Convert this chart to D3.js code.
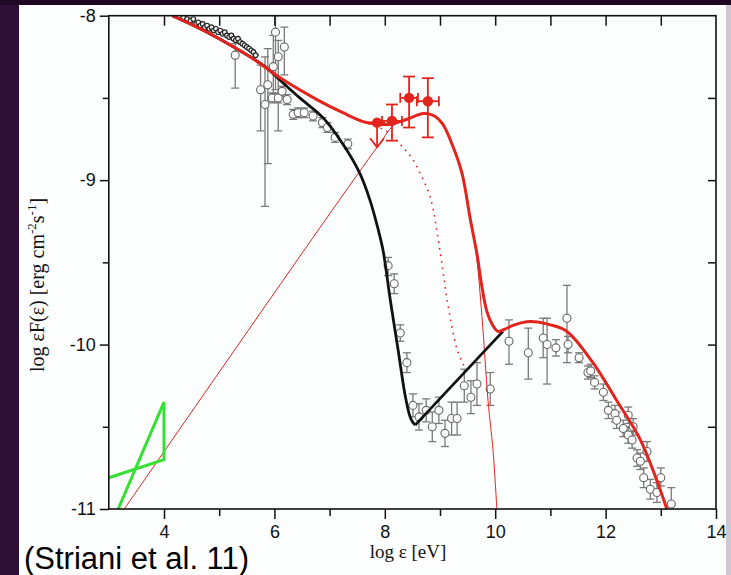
<!DOCTYPE html>
<html><head><meta charset="utf-8">
<script src="https://cdn.jsdelivr.net/npm/d3@7"></script>
<style>html,body{margin:0;padding:0;background:#2e0f36;overflow:hidden}</style>
</head><body>
<script>
// ---------- DATA ----------
const xMajorTicks = [4, 6, 8, 10, 12, 14];
const xMinorTicks = [5, 7, 9, 11, 13];
const yMajorTicks = [-8, -9, -10, -11];
const yMinorTicks = [-8.5, -9.5, -10.5];

// thick red total model
const redTotalX = [4.15, 4.6, 5.0, 5.56, 6.16, 6.77, 7.24, 7.67, 8.1, 8.4, 8.7, 8.9, 9.05, 9.24, 9.4, 9.55, 9.67, 9.76, 9.85, 9.95, 10.05, 10.15, 10.35, 10.63, 11.0, 11.3, 11.77, 12.2, 12.63, 13.11];
const redTotalY = [-8.0, -8.07, -8.14, -8.25, -8.39, -8.51, -8.59, -8.65, -8.66, -8.63, -8.595, -8.61, -8.66, -8.80, -8.96, -9.24, -9.45, -9.65, -9.80, -9.88, -9.92, -9.91, -9.88, -9.86, -9.88, -9.92, -10.11, -10.34, -10.58, -11.0];

// black model (descending part, then straight rise)
const blackX = [4.15, 4.6, 5.0, 5.56, 5.83, 6.16, 6.46, 6.88, 7.24, 7.55, 7.73, 7.88, 7.97, 8.10, 8.24, 8.38, 8.47, 8.55];
const blackY = [-8.0, -8.07, -8.14, -8.25, -8.31, -8.41, -8.50, -8.62, -8.78, -8.96, -9.12, -9.30, -9.43, -9.73, -10.03, -10.33, -10.45, -10.49];
const blackRiseX = [8.55, 10.14];
const blackRiseY = [-10.49, -9.92];

// thin red component
const thinRedX = [3.28, 7.86, 8.2, 8.5, 8.7, 8.9, 9.05, 9.24, 9.4, 9.55, 9.65, 9.76, 9.87, 9.96, 10.03];
const thinRedY = [-11.0, -8.80, -8.655, -8.62, -8.595, -8.61, -8.66, -8.80, -8.96, -9.24, -9.43, -9.83, -10.34, -10.64, -11.0];

// dotted red component
const dotRedX = [7.7, 7.9, 8.1, 8.3, 8.5, 8.64, 8.82, 9.0, 9.13, 9.31, 9.45];
const dotRedY = [-8.655, -8.68, -8.72, -8.79, -8.87, -8.96, -9.1, -9.43, -9.73, -10.03, -10.14];

// green bow-tie
const greenX = [3.0, 4.0, 4.0, 3.17];
const greenY = [-10.81, -10.70, -10.35, -11.0];

// red measured points
const redPtX = [8.13, 8.44, 8.78];
const redPtY = [-8.64, -8.50, -8.52];
const redPtLo = [-8.76, -8.68, -8.74];
const redPtHi = [-8.54, -8.37, -8.38];
const redPtXerr = [0.18, 0.16, 0.2];
// red upper limit
const ulX = [7.86];
const ulY = [-8.65];
const ulTo = [-8.80];
const ulXerr = [0.15];

// dense low-energy data (dark)
const denseX = [4.35, 4.42, 4.48, 4.53, 4.58, 4.62, 4.66, 4.7, 4.74, 4.78, 4.82, 4.86, 4.9, 4.94, 4.98, 5.02, 5.06, 5.1, 5.14, 5.18, 5.22, 5.26, 5.3, 5.34, 5.38, 5.42, 5.46, 5.5, 5.54, 5.58, 5.62, 5.66];
const denseY = [-8.01, -8.02, -8.03, -8.02, -8.05, -8.04, -8.06, -8.05, -8.07, -8.06, -8.08, -8.07, -8.09, -8.08, -8.10, -8.09, -8.11, -8.10, -8.12, -8.13, -8.12, -8.14, -8.15, -8.14, -8.16, -8.17, -8.18, -8.19, -8.20, -8.21, -8.22, -8.24];

// gray open-circle data with vertical error bars
const grayX = [5.29, 5.75, 5.83, 5.88, 5.98, 6.02, 6.07, 6.18,
  5.96, 6.07, 6.14, 6.23, 6.34, 6.43, 6.54, 6.70, 6.87, 6.96, 7.10, 7.33,
  8.06, 8.17, 8.28, 8.40, 8.51, 8.62, 8.75, 8.86, 8.98, 9.09, 9.21, 9.31, 9.44, 9.56, 9.67, 9.91,
  10.25, 10.6, 10.87, 10.94, 11.1, 11.3, 11.32, 11.52, 11.68, 11.73, 11.8, 11.96, 12.05, 12.17, 12.2, 12.32, 12.41, 12.41, 12.5, 12.48, 12.57, 12.63, 12.75, 12.69, 12.81, 12.93, 13.0, 13.19];
const grayY = [-8.24, -8.45, -8.54, -8.42, -8.31, -8.10, -8.25, -8.19,
  -8.50, -8.50, -8.46, -8.51, -8.60, -8.59, -8.59, -8.61, -8.65, -8.68, -8.74, -8.78,
  -9.52, -9.63, -9.93, -10.11, -10.37, -10.44, -10.40, -10.50, -10.40, -10.54, -10.45, -10.45, -10.25, -10.32, -10.24, -10.27,
  -9.98, -10.05, -9.96, -10.0, -10.02, -9.84, -10.0, -10.08, -10.17, -10.16, -10.23, -10.29, -10.40, -10.42, -10.46, -10.51, -10.43, -10.55, -10.50, -10.58, -10.69, -10.71, -10.65, -10.81, -10.88, -10.90, -10.81, -10.97];
const grayLo = [-8.44, -8.70, -9.16, -8.90, -8.50, -8.45, -8.70, -8.36,
  -8.53, -8.53, -8.49, -8.54, -8.63, -8.62, -8.62, -8.64, -8.68, -8.71, -8.77, -8.81,
  -9.58, -9.69, -9.98, -10.17, -10.44, -10.52, -10.47, -10.59, -10.48, -10.62, -10.55, -10.55, -10.35, -10.42, -10.37, -10.37,
  -10.12, -10.21, -10.08, -10.24, -10.07, -10.11, -10.05, -10.11, -10.21, -10.20, -10.27, -10.34, -10.45, -10.47, -10.51, -10.56, -10.48, -10.60, -10.55, -10.63, -10.74, -10.76, -10.71, -10.87, -10.94, -10.96, -10.86, -10.97];
const grayHi = [-8.17, -8.30, -8.25, -8.20, -8.12, -8.0, -8.15, -8.07,
  -8.47, -8.47, -8.43, -8.48, -8.57, -8.56, -8.56, -8.58, -8.62, -8.65, -8.71, -8.75,
  -9.47, -9.57, -9.88, -10.05, -10.30, -10.36, -10.33, -10.41, -10.32, -10.46, -10.35, -10.35, -10.15, -10.22, -10.11, -10.17,
  -9.85, -9.90, -9.84, -9.84, -9.97, -9.64, -9.95, -10.05, -10.13, -10.12, -10.19, -10.24, -10.35, -10.37, -10.41, -10.46, -10.38, -10.50, -10.45, -10.53, -10.64, -10.66, -10.59, -10.75, -10.82, -10.84, -10.75, -10.87];

// ---------- LAYOUT ----------
const W = 731, H = 575;
const svg = d3.select("body").append("svg").attr("width", W).attr("height", H);
svg.append("rect").attr("width", W).attr("height", H).attr("fill", "#2e0f36");
svg.append("rect").attr("width", W).attr("height", 5).attr("fill", "#1f0823");
svg.append("rect").attr("x", 19).attr("y", 5).attr("width", 707).attr("height", 570).attr("fill", "#fdfefe");
svg.append("rect").attr("x", 726).attr("y", 5).attr("width", 5).attr("height", 570).attr("fill", "#cfc8d3");

const L = 108.8, R = 716, T = 15.7, B = 509;
const x = d3.scaleLinear().domain([3, 14]).range([L, R]);
const y = d3.scaleLinear().domain([-11, -8]).range([B, T]);

svg.append("clipPath").attr("id", "clip").append("rect")
  .attr("x", L).attr("y", T).attr("width", R - L).attr("height", B - T);
const plot = svg.append("g").attr("clip-path", "url(#clip)");

const RED = "#e3241c", GRAY = "#7a7a7a";
const zip = (a, b) => a.map((v, i) => [v, b[i]]);
const lineC = d3.line().x(d => x(d[0])).y(d => y(d[1])).curve(d3.curveCatmullRom.alpha(0.5));
const lineL = d3.line().x(d => x(d[0])).y(d => y(d[1]));

// gray data
const gd = grayX.map((v, i) => ({x: v, y: grayY[i], lo: grayLo[i], hi: grayHi[i]}));
const gg = plot.append("g");
gg.selectAll("line.eb").data(gd).join("line").attr("class", "eb")
  .attr("x1", d => x(d.x)).attr("x2", d => x(d.x)).attr("y1", d => y(d.lo)).attr("y2", d => y(d.hi))
  .attr("stroke", GRAY).attr("stroke-width", 1.3);
gg.selectAll("line.c1").data(gd).join("line").attr("class", "c1")
  .attr("x1", d => x(d.x) - 4).attr("x2", d => x(d.x) + 4).attr("y1", d => y(d.lo)).attr("y2", d => y(d.lo))
  .attr("stroke", GRAY).attr("stroke-width", 1.3);
gg.selectAll("line.c2").data(gd).join("line").attr("class", "c2")
  .attr("x1", d => x(d.x) - 4).attr("x2", d => x(d.x) + 4).attr("y1", d => y(d.hi)).attr("y2", d => y(d.hi))
  .attr("stroke", GRAY).attr("stroke-width", 1.3);
gg.selectAll("circle").data(gd).join("circle")
  .attr("cx", d => x(d.x)).attr("cy", d => y(d.y)).attr("r", 4)
  .attr("fill", "#fff").attr("stroke", "#666").attr("stroke-width", 1.1);

// dense data
const dd = zip(denseX, denseY);
plot.append("g").selectAll("line").data(dd).join("line")
  .attr("x1", d => x(d[0]) - 3).attr("x2", d => x(d[0]) + 3).attr("y1", d => y(d[1])).attr("y2", d => y(d[1]))
  .attr("stroke", "#222").attr("stroke-width", 1.2);
plot.append("g").selectAll("circle").data(dd).join("circle")
  .attr("cx", d => x(d[0])).attr("cy", d => y(d[1])).attr("r", 2.3)
  .attr("fill", "#eee").attr("stroke", "#222").attr("stroke-width", 1.1);

// model curves
plot.append("path").attr("d", lineC(zip(thinRedX, thinRedY))).attr("fill", "none").attr("stroke", RED).attr("stroke-width", 1);
plot.append("path").attr("d", lineC(zip(dotRedX, dotRedY))).attr("fill", "none").attr("stroke", RED).attr("stroke-width", 1.6).attr("stroke-dasharray", "1.6,5");
plot.append("path").attr("d", lineC(zip(blackX, blackY))).attr("fill", "none").attr("stroke", "#111").attr("stroke-width", 2.8);
plot.append("path").attr("d", lineL(zip(blackRiseX, blackRiseY))).attr("fill", "none").attr("stroke", "#111").attr("stroke-width", 2.8);
plot.append("path").attr("d", lineC(zip(redTotalX, redTotalY))).attr("fill", "none").attr("stroke", RED).attr("stroke-width", 3);
plot.append("path").attr("d", lineL(zip(greenX, greenY))).attr("fill", "none").attr("stroke", "#35e035").attr("stroke-width", 3).attr("stroke-linejoin", "miter");

// red points
const rd = redPtX.map((v, i) => ({x: v, y: redPtY[i], lo: redPtLo[i], hi: redPtHi[i], xe: redPtXerr[i]}));
const rg = svg.append("g").attr("stroke", RED).attr("stroke-width", 1.8);
rd.forEach(d => {
  rg.append("line").attr("x1", x(d.x)).attr("x2", x(d.x)).attr("y1", y(d.lo)).attr("y2", y(d.hi));
  rg.append("line").attr("x1", x(d.x) - 6).attr("x2", x(d.x) + 6).attr("y1", y(d.lo)).attr("y2", y(d.lo));
  rg.append("line").attr("x1", x(d.x) - 6).attr("x2", x(d.x) + 6).attr("y1", y(d.hi)).attr("y2", y(d.hi));
  rg.append("line").attr("x1", x(d.x - d.xe)).attr("x2", x(d.x + d.xe)).attr("y1", y(d.y)).attr("y2", y(d.y));
  rg.append("line").attr("x1", x(d.x - d.xe)).attr("x2", x(d.x - d.xe)).attr("y1", y(d.y) - 5).attr("y2", y(d.y) + 5);
  rg.append("line").attr("x1", x(d.x + d.xe)).attr("x2", x(d.x + d.xe)).attr("y1", y(d.y) - 5).attr("y2", y(d.y) + 5);
  rg.append("circle").attr("cx", x(d.x)).attr("cy", y(d.y)).attr("r", 5.2).attr("fill", RED).attr("stroke", "none");
});
ulX.forEach((v, i) => {
  const cx = x(v), cy = y(ulY[i]), ty = y(ulTo[i]);
  rg.append("line").attr("x1", cx).attr("x2", cx).attr("y1", cy).attr("y2", ty);
  rg.append("line").attr("x1", x(v - ulXerr[i])).attr("x2", x(v + ulXerr[i])).attr("y1", cy).attr("y2", cy);
  rg.append("path").attr("d", `M${cx - 7},${ty - 9}L${cx},${ty}L${cx + 7},${ty - 9}`).attr("fill", "none");
  rg.append("circle").attr("cx", cx).attr("cy", cy).attr("r", 5.2).attr("fill", RED).attr("stroke", "none");
});

// ---------- AXES ----------
const axG = svg.append("g");
const fmt = d => String(d);
axG.append("g").attr("transform", `translate(0,${B})`)
  .call(d3.axisBottom(x).tickValues(xMajorTicks).tickSize(10).tickPadding(6).tickFormat(fmt));
axG.append("g").attr("transform", `translate(0,${B})`)
  .call(d3.axisBottom(x).tickValues(xMinorTicks).tickSize(7).tickFormat(""));
axG.append("g").attr("transform", `translate(${L},0)`)
  .call(d3.axisLeft(y).tickValues(yMajorTicks).tickSize(9).tickPadding(4).tickFormat(fmt));
axG.append("g").attr("transform", `translate(${L},0)`)
  .call(d3.axisLeft(y).tickValues(yMinorTicks).tickSize(6).tickFormat(""));
axG.append("g").attr("transform", `translate(0,${T})`)
  .call(d3.axisTop(x).tickValues(d3.range(4, 14)).tickSize(-10).tickFormat(""));
axG.append("g").attr("transform", `translate(${R},0)`)
  .call(d3.axisRight(y).tickValues([-8.5, -9, -9.5, -10, -10.5]).tickSize(-8).tickFormat(""));
axG.selectAll(".domain").remove();
axG.selectAll("line").attr("stroke", "#111").attr("stroke-width", 1.5);
axG.selectAll("text").attr("font-size", "18px").attr("fill", "#111").attr("font-family", "Liberation Sans, Arial, sans-serif");
svg.append("rect").attr("x", L).attr("y", T).attr("width", R - L).attr("height", B - T)
  .attr("fill", "none").attr("stroke", "#111").attr("stroke-width", 1.6);

// titles
svg.append("text").attr("x", x(8.42)).attr("y", 558).attr("text-anchor", "middle")
  .attr("font-family", "Liberation Serif, Times New Roman, serif").attr("font-size", "19px").attr("fill", "#111")
  .text("log ε [eV]");
const yt = svg.append("text").attr("transform", `translate(44,${285}) rotate(-90)`).attr("text-anchor", "middle")
  .attr("font-family", "Liberation Serif, Times New Roman, serif").attr("font-size", "20px").attr("fill", "#111");
yt.append("tspan").text("log εF(ε) [erg cm");
yt.append("tspan").attr("dy", -8).attr("font-size", "13px").text("-2");
yt.append("tspan").attr("dy", 8).text("s");
yt.append("tspan").attr("dy", -8).attr("font-size", "13px").text("-1");
yt.append("tspan").attr("dy", 8).text("]");

svg.append("text").attr("x", 24).attr("y", 569)
  .attr("font-family", "Liberation Sans, Arial, sans-serif").attr("font-size", "31px").attr("fill", "#000")
  .text("(Striani et al. 11)");
</script>
</body></html>
